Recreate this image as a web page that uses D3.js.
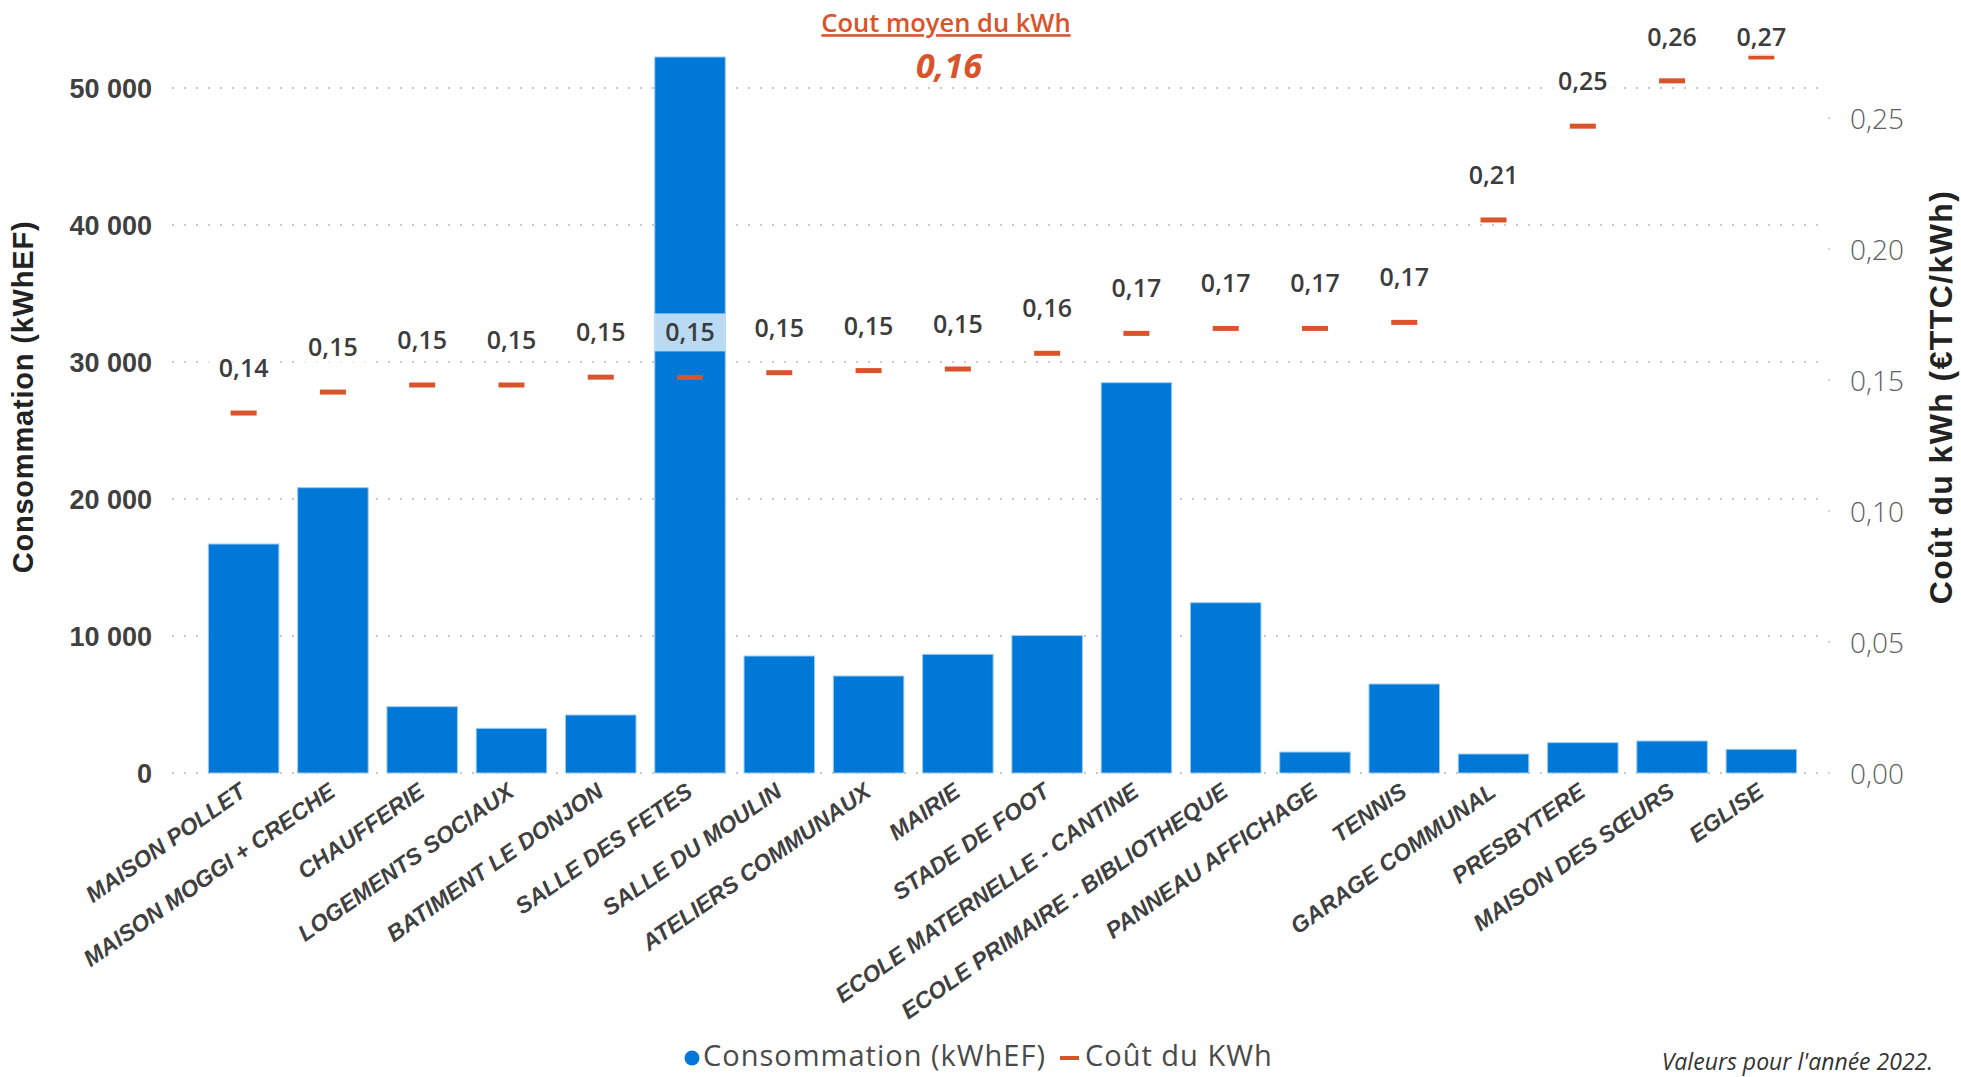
<!DOCTYPE html>
<html><head><meta charset="utf-8">
<script src="https://cdn.jsdelivr.net/npm/d3@7/dist/d3.min.js"></script>
<style>body{margin:0;background:#fff;overflow:hidden}</style>
</head><body>
<svg id="chart" width="1961" height="1077"></svg>
<script>
const categories = ["MAISON POLLET","MAISON MOGGI + CRECHE","CHAUFFERIE","LOGEMENTS SOCIAUX","BATIMENT LE DONJON","SALLE DES FETES","SALLE DU MOULIN","ATELIERS COMMUNAUX","MAIRIE","STADE DE FOOT","ECOLE MATERNELLE - CANTINE","ECOLE PRIMAIRE - BIBLIOTHEQUE","PANNEAU AFFICHAGE","TENNIS","GARAGE COMMUNAL","PRESBYTERE","MAISON DES SŒURS","EGLISE"];
const consumption = [16715,20827,4842,3260,4234,52263,8540,7080,8664,10030,28490,12430,1530,6496,1387,2214,2336,1728];
const cost = [0.1374,0.1454,0.1481,0.1481,0.1511,0.1510,0.1528,0.1536,0.1542,0.1602,0.1678,0.1697,0.1697,0.1720,0.2111,0.2469,0.2642,0.2733];
const leftTicks = [0,10000,20000,30000,40000,50000];
const rightTicks = [0,0.05,0.10,0.15,0.20,0.25];
const avgCost = 0.16;
const avgTitle = "Cout moyen du kWh";
const leftTitle = "Consommation (kWhEF)";
const rightTitle = "Coût du kWh (€TTC/kWh)";
const legendItems = ["Consommation (kWhEF)","Coût du KWh"];
const footnote = "Valeurs pour l'année 2022.";

const BLUE = "#0078D7", ORANGE = "#D9532B", DARK = "#404040";
const svg = d3.select("#chart");
const x = d3.scaleBand().domain(categories).range([199,1806]).paddingInner(0.21).paddingOuter(0.105);
const yL = d3.scaleLinear().domain([0,d3.max(consumption)]).range([773,57]);
const yR = d3.scaleLinear().domain([0,d3.max(cost)]).range([773,57]);
const fmtL = v => d3.format(",")(v).replace(/,/g," ");
const fmtR = v => v.toFixed(2).replace(".",",");

// gridlines
const grid = svg.append("g");
grid.selectAll("line").data(leftTicks).join("line")
  .attr("x1",172).attr("x2",1828)
  .attr("y1",d=>yL(d)).attr("y2",d=>yL(d))
  .attr("stroke","#C8C8C8").attr("stroke-width",2.2).attr("stroke-dasharray","2,10");

// left axis
const gL = svg.append("g").attr("transform","translate(152,0)")
  .call(d3.axisLeft(yL).tickValues(leftTicks).tickFormat(fmtL).tickSize(0).tickPadding(0));
gL.select(".domain").remove();
gL.selectAll("text").attr("font-family","Liberation Sans, Arial, sans-serif")
  .attr("font-weight","bold").attr("font-size",27).attr("fill",DARK).attr("dy","0.36em");

// right axis
const gR = svg.append("g").attr("transform","translate(1850,0)")
  .call(d3.axisRight(yR).tickValues(rightTicks).tickFormat(fmtR).tickSize(0).tickPadding(0));
gR.select(".domain").remove();
gR.selectAll("text").attr("font-family","Open Sans, sans-serif").attr("font-weight",300)
  .attr("font-size",28).attr("fill","#606060").attr("dy","0.36em");
svg.append("g").selectAll("circle").data(rightTicks).join("circle")
  .attr("cx",1829).attr("cy",d=>yR(d)).attr("r",1).attr("fill","#C8C8C8");

// bars
svg.append("g").selectAll("rect").data(categories).join("rect")
  .attr("x",d=>x(d)).attr("width",x.bandwidth())
  .attr("y",(d,i)=>yL(consumption[i])).attr("height",(d,i)=>yL(0)-yL(consumption[i]))
  .attr("fill",BLUE).attr("stroke","#9CCBF0").attr("stroke-width",1);

// cost markers
svg.append("g").selectAll("rect").data(categories).join("rect")
  .attr("x",d=>x(d)+x.bandwidth()/2-13).attr("width",26)
  .attr("y",(d,i)=>yR(cost[i])-2.5).attr("height",5).attr("fill",ORANGE);

// labels
const lab = svg.append("g");
categories.forEach((c,i)=>{
  const cx = x(c)+x.bandwidth()/2, cy = Math.max(37, yR(cost[i])-45);
  lab.append("rect").attr("x",x(c)).attr("width",x.bandwidth()).attr("y",cy-19).attr("height",38)
    .attr("fill","#fff").attr("fill-opacity",0.73);
  lab.append("text").attr("x",cx).attr("y",cy).attr("dy","0.36em").attr("text-anchor","middle")
    .attr("font-family","Open Sans, sans-serif").attr("font-weight",600).attr("font-size",25)
    .attr("fill","#3c3c3c").text(fmtR(cost[i]));
});

// category labels
svg.append("g").selectAll("text").data(categories).join("text")
  .attr("transform",d=>`translate(${x(d)+x.bandwidth()/2+4},795) rotate(-35)`)
  .attr("text-anchor","end").attr("font-family","Liberation Sans, Arial, sans-serif")
  .attr("font-weight","bold").attr("font-style","italic").attr("font-size",23)
  .attr("fill",DARK).text(d=>d);

// axis titles
svg.append("text").attr("transform","translate(23,397) rotate(-90)").attr("text-anchor","middle")
  .attr("dy","0.36em").attr("font-family","Liberation Sans, Arial, sans-serif").attr("font-weight","bold")
  .attr("font-size",29).attr("letter-spacing",0.8).attr("fill","#222").text(leftTitle);
svg.append("text").attr("transform","translate(1940,397) rotate(-90)").attr("text-anchor","middle")
  .attr("dy","0.36em").attr("font-family","Liberation Sans, Arial, sans-serif").attr("font-weight","bold")
  .attr("font-size",32).attr("letter-spacing",1.4).attr("fill","#222").text(rightTitle);

// average KPI
svg.append("text").attr("x",946).attr("y",23).attr("dy","0.36em").attr("text-anchor","middle")
  .attr("font-family","Open Sans, sans-serif").attr("font-weight",600).attr("font-size",25.5)
  .attr("fill",ORANGE).attr("text-decoration","underline").text(avgTitle);
svg.append("text").attr("x",949).attr("y",66).attr("dy","0.36em").attr("text-anchor","middle")
  .attr("font-family","Open Sans, sans-serif").attr("font-weight",700).attr("font-style","italic").attr("font-size",34)
  .attr("fill",ORANGE).text(fmtR(avgCost));

// legend
const lg = svg.append("g").attr("font-family","Open Sans, sans-serif").attr("font-size",29)
  .attr("letter-spacing",1).attr("fill","#4a4a4a");
lg.append("circle").attr("cx",692).attr("cy",1058).attr("r",7.5).attr("fill",BLUE);
const t1 = lg.append("text").attr("x",703).attr("y",1056).attr("dy","0.36em").text(legendItems[0]);
const w1 = t1.node().getComputedTextLength();
lg.append("rect").attr("x",703+w1+14).attr("y",1056).attr("width",19).attr("height",4).attr("fill",ORANGE);
lg.append("text").attr("x",703+w1+39).attr("y",1056).attr("dy","0.36em").text(legendItems[1]);

// footnote
svg.append("text").attr("x",1933).attr("y",1062).attr("dy","0.36em").attr("text-anchor","end")
  .attr("font-family","Open Sans, sans-serif").attr("font-style","italic").attr("font-size",23)
  .attr("fill","#333").text(footnote);
</script>
</body></html>
